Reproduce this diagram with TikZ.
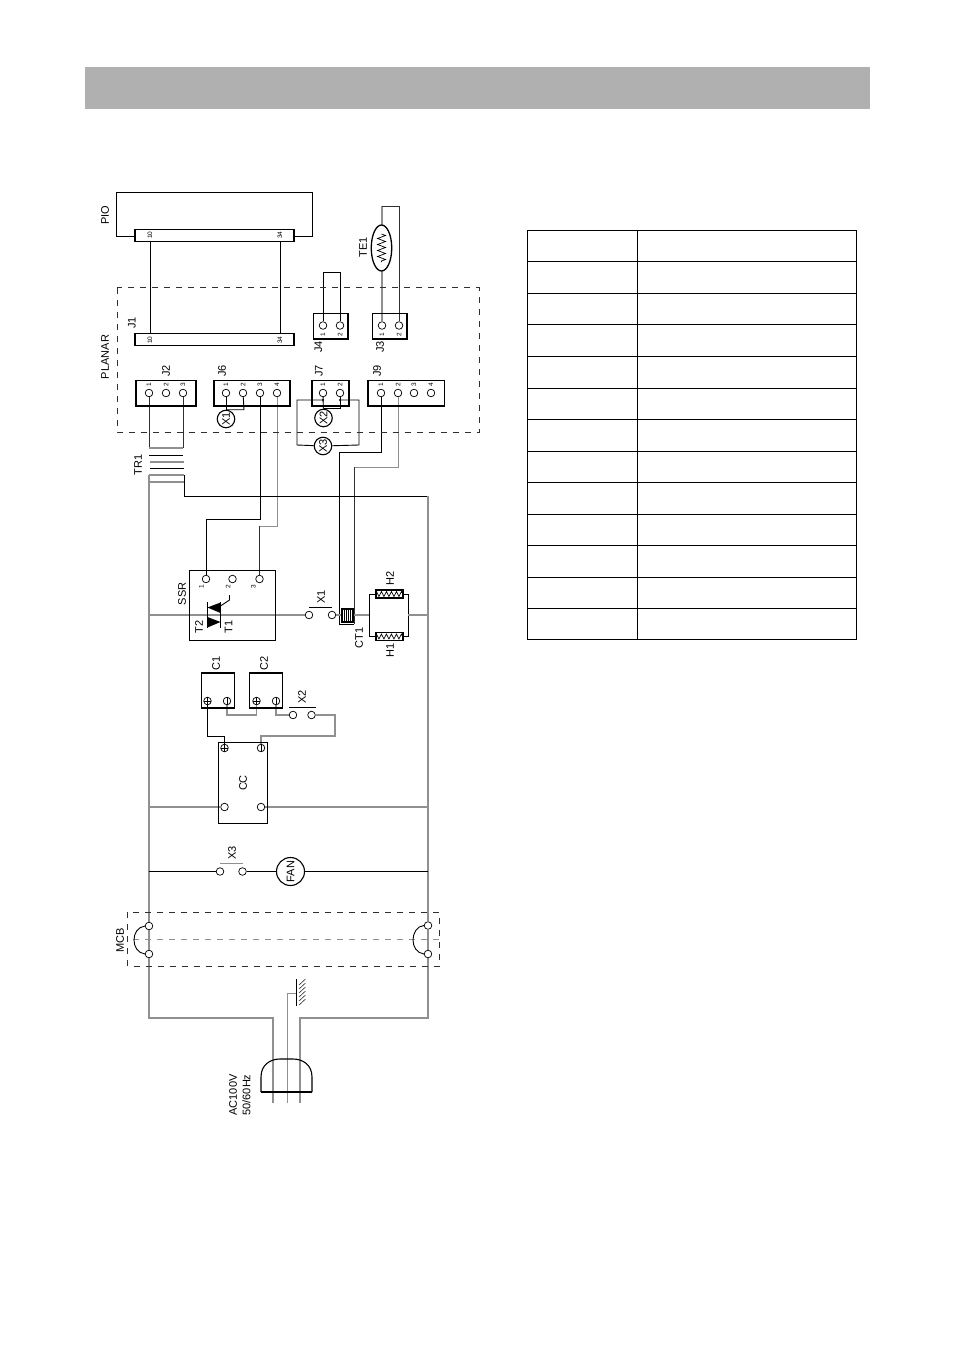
\documentclass[tikz,border=0pt]{standalone}
\usepackage{fontspec}
\setmainfont{Liberation Sans}
\usetikzlibrary{backgrounds,decorations.pathmorphing,shapes.geometric}
\definecolor{wgray}{HTML}{909090}
\definecolor{wdark}{HTML}{303030}
\tikzset{
  wb/.style={draw=black,line width=0.9pt},
  wd/.style={draw=wdark,line width=0.9pt},
  wg/.style={draw=wgray,line width=1.2pt},
  conn/.style={draw=black,line width=1.8pt},
  term/.style={circle,draw=black,fill=white,line width=0.7pt,minimum size=7.6pt,inner sep=0pt},
  tplus/.style={term,path picture={\draw[line width=0.6pt] (path picture bounding box.west)--(path picture bounding box.east) (path picture bounding box.north)--(path picture bounding box.south);}},
  tminus/.style={term,path picture={\draw[line width=0.6pt] (path picture bounding box.north)--(path picture bounding box.south);}},
  lab/.style={rotate=90,font=\fontsize{11}{11}\selectfont,inner sep=0pt},
  small/.style={rotate=90,font=\fontsize{6.5}{6.5}\selectfont,inner sep=0pt},
  lamp/.style={circle,draw=black,line width=1.1pt,fill=white,minimum size=17.5pt,inner sep=0pt,rotate=90,font=\fontsize{11}{11}\selectfont},
  dashbox/.style={draw=wdark,line width=0.8pt,dash pattern=on 6pt off 6pt},
  zz/.style={draw=black,line width=0.7pt,decorate,decoration={zigzag,segment length=6pt,amplitude=4pt}},
}
\begin{document}
\begin{tikzpicture}[x=1pt,y=-1pt]
\useasboundingbox (0,0) rectangle (954,1351);
\fill[black!31] (85,67) rectangle (870,109);

% table
\draw[black,line width=0.9pt] (527,230) rectangle (856.5,639.5);
\draw[black,line width=0.9pt] (637,230) -- (637,639.5);
\foreach \yy in {261.5,293,324.5,356.5,388,419.5,451,482.5,514,545.5,577,608.5}
  \draw[black,line width=0.9pt] (527,\yy) -- (856.5,\yy);

% PIO and planar frames
\draw[black,line width=0.9pt] (135,236.5) -- (116,236.5) -- (116,192.5) -- (312,192.5) -- (312,236.5) -- (294,236.5);
\draw[dashbox] (117,287.5) rectangle (479,432);
\draw[dashbox] (127.5,912) rectangle (439,966);
\draw[draw=wgray,line width=0.9pt,dash pattern=on 6pt off 6pt] (133,939.5) -- (439,939.5);

% connector blocks
\node[draw=black,line width=1.5pt,minimum width=159pt,minimum height=12pt,inner sep=0pt] (cpio) at (214.5,235.5) {};
\node[draw=black,line width=1.5pt,minimum width=159pt,minimum height=12pt,inner sep=0pt] (cj1) at (214.5,339.5) {};
\node[small] at (150,235) {10};
\node[small] at (280,235) {34};
\node[small] at (150,340) {10};
\node[small] at (280,340) {34};
\draw[wb] (150,241.5) -- (150,333);
\draw[wb] (280,241.5) -- (280,333);

\draw[conn,line width=1.5pt] (313.5,313.5) rectangle (348,339);
\draw[conn,line width=1.5pt] (372.5,313.5) rectangle (407,339);
\draw[conn,line width=1.2pt] (136,380.5) rectangle (196,406);
\draw[conn,line width=1.2pt] (214,380.5) rectangle (290,406);
\draw[conn,line width=1.7pt] (312,380.5) rectangle (349,406);
\draw[conn,line width=1.2pt] (368,380.5) rectangle (444.5,406);

% terminals
\node[term] (j4a) at (323,325.5) {};
\node[term] (j4b) at (340,325.5) {};
\node[term] (j3a) at (382,325.5) {};
\node[term] (j3b) at (399,325.5) {};
\foreach \n/\xx in {j2a/149,j2b/166,j2c/183,j6a/226,j6b/243,j6c/260,j6d/277,j7a/323,j7b/340,j9a/381,j9b/398,j9c/414,j9d/431}
  \node[term] (\n) at (\xx,393) {};
\node[small] at (323,334.5) {1};
\node[small] at (340,334.5) {2};
\node[small] at (382,334.5) {1};
\node[small] at (399,334.5) {2};
\foreach \t/\xx in {1/149,2/166,3/183,1/226,2/243,3/260,4/277,1/323,2/340,1/381,2/398,3/414,4/431}
  \node[small] at (\xx,385) {\t};

% lamps
\node[lamp] (x1l) at (226,419) {X1};
\node[lamp] (x2l) at (323.5,418) {X2};
\node[lamp] (x3l) at (323,446) {X3};
\coordinate (x7a) at (323,400);
\coordinate (x7b) at (340,400);
\fill (x7a) circle (1.2pt) (x7b) circle (1.2pt);

% TE1
\node[draw=black,line width=1.3pt,ellipse,fill=white,minimum width=20.5pt,minimum height=46pt,inner sep=0pt] (te1) at (381.5,248) {};
\draw[zz] (381.5,234) -- (381.5,262);

% SSR
\node[draw=black,line width=1pt,minimum width=86pt,minimum height=70pt,inner sep=0pt] (ssr) at (232.5,605) {};
\draw[black,line width=1.5pt] (189.5,570) -- (189.5,640);
\node[term] (ssra) at (206,579) {};
\node[term] (ssrb) at (232.5,579) {};
\node[term] (ssrc) at (259.5,579) {};
\node[small] at (201.5,587) {1};
\node[small] at (228,587) {2};
\node[small] at (253.5,587) {3};
\fill (220.5,602.5) -- (220.5,613) -- (207.5,607.5) -- cycle;
\fill (207.5,617) -- (207.5,627.5) -- (220.5,622) -- cycle;
\draw[wb] (207.5,602) -- (207.5,628);
\draw[wb] (220.5,602) -- (220.5,628);
\draw[wb] (229.5,595) -- (229.5,600) -- (220.5,606);

% X1 contact
\node[term] (x1a) at (309,615) {};
\node[term] (x1b) at (332,615) {};
\draw[wb] (309,607.5) -- (332,607.5);

% CT1
\draw[fill=black] (341.5,608) rectangle (353,622);
\foreach \xx in {343,345,347,349,351}
  \draw[white,line width=0.7pt] (\xx,609.5) -- (\xx,620.5);

% heaters
\node[draw=black,line width=1.6pt,minimum width=27pt,minimum height=8pt,inner sep=0pt] (h2) at (389.5,594) {};
\node[draw=black,line width=1.6pt,minimum width=27pt,minimum height=8pt,inner sep=0pt] (h1) at (389.5,636.5) {};
\draw[zz,decoration={segment length=5pt,amplitude=2.4pt}] (h2.west) -- (h2.east);
\draw[zz,decoration={segment length=5pt,amplitude=2.4pt}] (h1.west) -- (h1.east);

% C1 C2
\node[draw=black,line width=1.4pt,minimum width=33.5pt,minimum height=35pt,inner sep=0pt] (c1) at (218,690.5) {};
\node[draw=black,line width=1.4pt,minimum width=33.5pt,minimum height=35pt,inner sep=0pt] (c2) at (266,690.5) {};
\node[tplus] (c1p) at (207.5,701) {};
\node[tminus] (c1m) at (227,701) {};
\node[tplus] (c2p) at (256.5,701) {};
\node[tminus] (c2m) at (276,701) {};

% X2
\node[term] (x2a) at (293,715) {};
\node[term] (x2b) at (311.5,715) {};
\draw[wb] (289,707.5) -- (315.5,707.5);

% CC
\node[draw=black,line width=0.9pt,minimum width=49pt,minimum height=81pt,inner sep=0pt] (cc) at (243,782.5) {};
\node[tplus] (ccp) at (224.5,748) {};
\node[tminus] (ccm) at (261,748) {};
\node[term] (cca) at (224.5,807) {};
\node[term] (ccb) at (261,807) {};

% X3 + FAN
\node[term] (x3a) at (220,871.5) {};
\node[term] (x3b) at (242.5,871.5) {};
\draw[wg,line width=1pt] (220,863.5) -- (242.5,863.5);
\node[circle,draw=black,line width=1.1pt,fill=white,minimum size=28pt,inner sep=0pt,rotate=90,font=\fontsize{11}{11}\selectfont] (fan) at (290.5,871.5) {FAN};

% MCB
\node[term] (mla) at (149,926) {};
\node[term] (mlb) at (149,954) {};
\node[term] (mra) at (428,925.5) {};
\node[term] (mrb) at (428,954) {};
\draw[wb] (mla.west) .. controls (138,927) and (134,933) .. (134,940) .. controls (134,947) and (138,953) .. (mlb.west);
\draw[wb] (mra.west) .. controls (417,926) and (413,933) .. (413,940) .. controls (413,947) and (417,953) .. (mrb.west);

% plug
\draw[black,line width=1.1pt] (261,1092) -- (261,1077) .. controls (261,1065) and (270,1059) .. (280,1059) -- (293,1059) .. controls (303,1059) and (312,1065) .. (312,1077) -- (312,1092);
\draw[black,line width=1.6pt] (261,1092) -- (312,1092);

% ground
\draw[black,line width=0.9pt] (296.5,979) -- (296.5,1006);
\foreach \yy in {985,989,993,997,1001,1005}
  \draw[wdark,line width=0.6pt] (299,\yy) -- (305.5,\yy-6);

\begin{pgfonlayer}{background}
\fill[white] (0,0) rectangle (954,1351);
% top wiring
\draw[wb] (j4a) -- ++(0,-53.5) -| (j4b);
\draw[wg] (j3a) -- ++(0,-119.5) coordinate (tetop);
\draw[wd] (tetop) -| (j3b);
\draw[wd] (j2a) -- ++(0,55);
\draw[wd] (j2c) -- ++(0,55);
\draw[wg] (149,448) -- (183,448);
\draw[wb] (149,455) -- (183,455);
\draw[wg] (150,462) -- (184,462);
\draw[wb] (150,468.5) -- (184,468.5);
\draw[wg] (149,475) -- (184,475);
\draw[wg,line width=1.6pt] (149,482) -- (184,482);
% lamp wires
\draw[wb] (j6a) -- (x1l);
\draw[wb] (x1l.east) -- ++(18,0) -- (j6b);
\draw[wb] (j7a) -- (x2l);
\draw[wb] (x2l.east) -- ++(16.5,0) -- (j7b);
\draw[wb] (x7a) -| ++(-26,45) -- (x3l);
\draw[wb] (x7b) -| ++(19,45) -- (x3l);
% control wires
\draw[wb] (j6c) |- ++(-54,126) -- (ssra);
\draw[wg,line width=1pt] (j6d) -- ++(0,133) -- ++(-17.5,0) coordinate (k3);
\draw[wd] (k3) -- (ssrc);
\draw[wb] (j9a) -- ++(0,59) -- ++(-42,0) -- ++(0,172) -- ++(15,0) coordinate (ctb);
\draw[wg,line width=1pt] (j9b) -- ++(0,74) -- ++(-44,0) coordinate (k4);
\draw[wd] (k4) -- (ctb);
% rails
\draw[wg,line width=1.3pt] (149,475) -- (mla);
\draw[wb] (184,475) -- (184,496) -- (428,496) coordinate (rt);
\draw[wg,line width=1.3pt] (rt) -- (mra);
\draw[wg,line width=1.3pt] (mla) -- (mlb);
\draw[wg,line width=1.3pt] (mra) -- (mrb);
\draw[wg,line width=1.3pt] (mlb) -- ++(0,64) -- ++(124,0) -- ++(0,85);
\draw[wg,line width=1.3pt] (mrb) -- ++(0,64) -- ++(-128,0) -- ++(0,85);
\draw[wg,line width=1pt] (287,1103) -- (287,993) -- (296.5,993);
% load branch
\draw[wg] (149,615) -- (x1a);
\draw[wg] (x1b) -- (369,615);
\draw[wb] (h2.west) -- (369.5,594) -- (369.5,636.5) -- (h1.west);
\draw[wb] (h2.east) -- (408,594) -- (408,636.5) -- (h1.east);
\draw[wg] (408,615) -- (428,615);
% capacitor wiring
\draw[wb] (c1p) -- ++(0,35.5) -| (ccp);
\draw[wg] (c1m) |- ++(29.5,14) -- (c2p);
\draw[wg] (c2m) |- (x2a);
\draw[wg] (x2b) -| (335,736) -- (261,736) -- (ccm);
% CC line feed
\draw[wg] (149,807) -- (cca);
\draw[wg] (ccb) -- (428,807);
% fan
\draw[wb] (149,871.5) -- (x3a);
\draw[wb] (x3b) -- (fan);
\draw[wb] (fan) -- (428,871.5);
\end{pgfonlayer}

% labels
\node[lab] at (105,215) {PIO};
\node[lab] at (132,323) {J1};
\node[lab] at (105,357) {PLANAR};
\node[lab] at (318.5,347) {J4};
\node[lab] at (380,347) {J3};
\node[lab] at (166,371) {J2};
\node[lab] at (222,371) {J6};
\node[lab] at (319,371) {J7};
\node[lab] at (377,371) {J9};
\node[lab] at (138,465) {TR1};
\node[lab] at (363,247) {TE1};
\node[lab] at (182,594) {SSR};
\node[lab] at (199,627) {T2};
\node[lab] at (228.5,627) {T1};
\node[lab] at (321,597) {X1};
\node[lab] at (359,638) {CT1};
\node[lab] at (390,578) {H2};
\node[lab] at (390,650) {H1};
\node[lab] at (216,663) {C1};
\node[lab] at (264,663) {C2};
\node[lab] at (302,697) {X2};
\node[lab] at (243,783) {CC};
\node[lab] at (232,853) {X3};
\node[lab] at (120,940) {MCB};
\node[lab] at (233,1095) {AC100V};
\node[lab] at (246.5,1095) {50/60Hz};
\end{tikzpicture}
\end{document}
